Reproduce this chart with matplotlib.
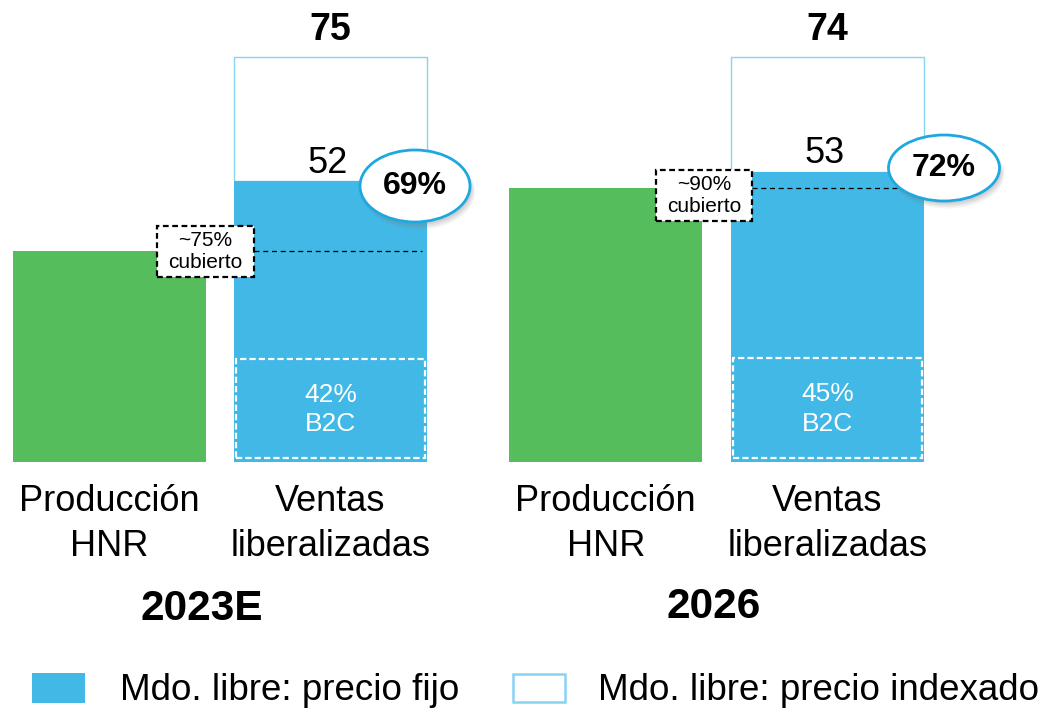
import matplotlib
matplotlib.use("Agg")
import matplotlib.pyplot as plt
from matplotlib.patches import Rectangle, Ellipse
import matplotlib.transforms as mtransforms

plt.rcParams['font.family'] = ['Liberation Sans', 'DejaVu Sans']

# ---------------- data ----------------
years = ["2023E", "2026"]
categories = ["Producción\nHNR", "Ventas\nliberalizadas"]
hnr_production = [39, 50]          # green bars
fixed_price = [52, 53]             # Mdo. libre: precio fijo
total_sales = [75, 74]             # fixed + indexed
fixed_share_labels = ["69%", "72%"]
covered_labels = ["~75%\ncubierto", "~90%\ncubierto"]
b2c_labels = ["42%\nB2C", "45%\nB2C"]
b2c_box_height = [19, 19]
legend_labels = ["Mdo. libre: precio fijo", "Mdo. libre: precio indexado"]

BLUE = "#41B8E5"
GREEN = "#55BD5B"
EDGE = "#86D3F2"
RING = "#1EA8DF"

W, H = 1050, 709
fig = plt.figure(figsize=(W / 100, H / 100), dpi=100)

def fx(px):
    return px / W

def fy(py):
    return 1 - py / H

ax_left_px = [13, 509]
ax_right_px = [427, 924]
base_px, top_px = 462, 57
ell_center_px = [(415, 186), (944, 168)]
ell_size_px = [(110, 72), (111, 66)]
box_px = [(157, 254, 226, 277), (656, 752, 170, 221)]

bw = 0.873

for i in range(2):
    l, r = ax_left_px[i], ax_right_px[i]
    ax = fig.add_axes([fx(l), fy(base_px), fx(r - l), (base_px - top_px) / H])
    ax.set_xlim(-bw / 2, 1 + bw / 2)
    ax.set_ylim(0, total_sales[i])
    ax.axis('off')
    pxu_x = (r - l) / (1 + bw)
    pxu_y = (base_px - top_px) / total_sales[i]

    # green bar
    ax.bar(0, hnr_production[i], width=bw, color=GREEN, zorder=2)
    # indexed (hollow) part
    ax.bar(1, total_sales[i] - fixed_price[i], bottom=fixed_price[i], width=bw,
           facecolor='white', edgecolor=EDGE, linewidth=1.0, zorder=2,
           clip_on=False)
    # fixed part
    ax.bar(1, fixed_price[i], width=bw, color=BLUE, zorder=3)

    # B2C dashed box
    inset_x = 2 / pxu_x
    inset_y = 4 / pxu_y
    ax.add_patch(Rectangle((1 - bw / 2 + inset_x, inset_y), bw - 2 * inset_x,
                           b2c_box_height[i] - inset_y, facecolor='none',
                           edgecolor='white', linewidth=1.6,
                           linestyle=(0, (2.8, 1.4)), zorder=4))
    ax.text(1, b2c_box_height[i] / 2 + 0.2, b2c_labels[i], ha='center', va='center',
            color='white', fontsize=19, linespacing=1.3, zorder=5)

    # value labels
    ax.annotate(str(total_sales[i]), (1, total_sales[i]), xytext=(0, 19.5),
                textcoords='offset points', ha='center', va='center',
                fontsize=27, fontweight='bold', annotation_clip=False)
    ax.annotate(str(fixed_price[i]), (1, fixed_price[i]), xytext=(-2, 13),
                textcoords='offset points', ha='center', va='center',
                fontsize=26, annotation_clip=False)

    # covered box + dashed line
    bx0, bx1, by0, by1 = box_px[i]
    x0 = (bx0 - l) / pxu_x - bw / 2
    x1 = (bx1 - l) / pxu_x - bw / 2
    y0 = (base_px - by1) / pxu_y
    y1 = (base_px - by0) / pxu_y
    ax.plot([x1, 1 + bw / 2 - 5 / pxu_x], [hnr_production[i]] * 2, color='black',
            linewidth=0.9, linestyle=(0, (4, 3)), zorder=5, clip_on=False)
    ax.add_patch(Rectangle((x0, y0), x1 - x0, y1 - y0, facecolor='white',
                           edgecolor='black', linewidth=1.6,
                           linestyle=(0, (2.6, 1.6)), zorder=6, clip_on=False))
    ax.text((x0 + x1) / 2, (y0 + y1) / 2, covered_labels[i], ha='center',
            va='center', fontsize=15, linespacing=1.15, zorder=7)

    # ellipse callout with shadow
    cx_px, cy_px = ell_center_px[i]
    ew_px, eh_px = ell_size_px[i]
    cx = (cx_px - l) / pxu_x - bw / 2
    cy = (base_px - cy_px) / pxu_y
    ew = ew_px / pxu_x
    eh = eh_px / pxu_y
    for k, a in enumerate([0.08, 0.09, 0.11, 0.13]):
        off = 6 - k
        ax.add_patch(Ellipse((cx + off / pxu_x * 0.6, cy - off / pxu_y), ew + (3 - k) / pxu_x,
                             eh + (3 - k) / pxu_y, facecolor='gray', edgecolor='none',
                             alpha=a, zorder=7, clip_on=False))
    ax.add_patch(Ellipse((cx, cy), ew, eh, facecolor='white', edgecolor=RING,
                         linewidth=2.0, zorder=8, clip_on=False))
    ax.text(cx, cy, fixed_share_labels[i], ha='center', va='center',
            fontsize=23, fontweight='bold', zorder=9)

    # category labels
    trans = mtransforms.blended_transform_factory(ax.transData, fig.transFigure)
    for j, cat in enumerate(categories):
        ax.text(j, fy(524), cat, transform=trans, ha='center', va='center',
                fontsize=26, linespacing=1.38)

# year labels
fig.text(fx(202), fy(609), years[0], ha='center', va='center', fontsize=30.5,
         fontweight='bold')
fig.text(fx(714), fy(607), years[1], ha='center', va='center', fontsize=30.5,
         fontweight='bold')

# legend
fig.patches.append(Rectangle((fx(32), fy(703)), fx(53), 30 / H, facecolor=BLUE,
                             edgecolor='none', transform=fig.transFigure))
fig.patches.append(Rectangle((fx(513), fy(702)), fx(52), 28 / H, facecolor='white',
                             edgecolor=EDGE, linewidth=1.8, transform=fig.transFigure))
fig.text(fx(120), fy(690), legend_labels[0], ha='left', va='center', fontsize=26.5)
fig.text(fx(598), fy(690), legend_labels[1], ha='left', va='center', fontsize=26.5)

fig.savefig("out.png", dpi=100)
